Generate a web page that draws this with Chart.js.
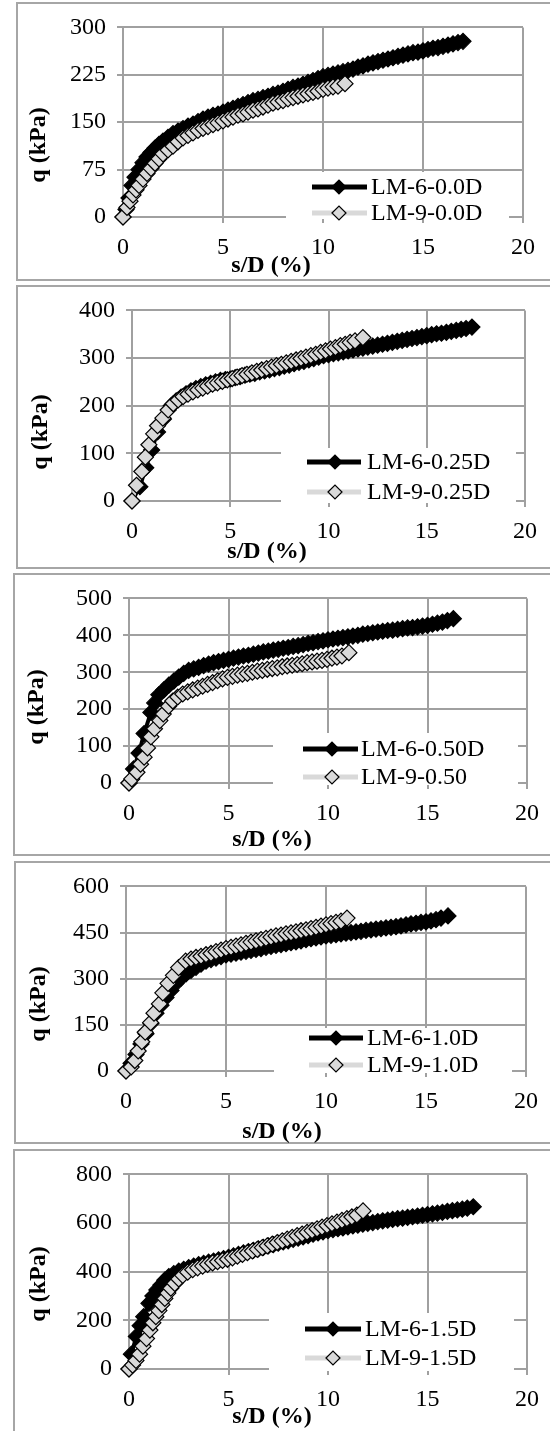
<!DOCTYPE html>
<html>
<head>
<meta charset="utf-8">
<script src="https://cdn.jsdelivr.net/npm/chart.js"></script>
<style>
  html, body { margin: 0; padding: 0; background: #fff; }
  body { position: relative; width: 550px; height: 1431px; overflow: hidden; }
  .box { position: absolute; border: 2px solid #a6a6a6; box-sizing: border-box; }
  canvas { position: absolute; left: 0; }
</style>
</head>
<body>
<script>
// ---- data: s/D (%) and q (kPa) ----
// panel 1 : 0.0D
const sd6_00 = [0,0.15,0.3,0.45,0.6,0.8,1.0,1.2,1.4,1.6,1.8,2.0,2.25,2.5,2.75,3.0,3.25,3.5,3.75,4.0,4.25,4.5,4.75,5.0,5.25,5.5,5.75,6.0,6.25,6.5,6.75,7.0,7.25,7.5,7.75,8.0,8.25,8.5,8.75,9.0,9.25,9.5,9.75,10.0,10.25,10.5,10.75,11.0,11.25,11.5,11.75,12.0,12.25,12.5,12.75,13.0,13.25,13.5,13.75,14.0,14.25,14.5,14.75,15.0,15.25,15.5,15.75,16.0,16.25,16.5,16.75,17.0];
const q6_00  = [0,12,30,50,63,75,86,95,102,109,115,120,126,132,136,140,144,147,151,155,158,161,163,166,169,172,175,178,181,184,186,189,191,194,196,199,202,205,207,210,213,216,219,222,224,226,228,230,232,234,237,239,242,244,246,248,250,252,254,256,258,260,261,263,265,267,268,270,272,274,276,278];
const sd9_00 = [0,0.2,0.35,0.5,0.65,0.8,1.0,1.2,1.4,1.6,1.8,2.0,2.25,2.5,2.75,3.0,3.25,3.5,3.75,4.0,4.25,4.5,4.75,5.0,5.25,5.5,5.75,6.0,6.25,6.5,6.75,7.0,7.25,7.5,7.75,8.0,8.25,8.5,8.75,9.0,9.25,9.5,9.75,10.0,10.25,10.5,10.75,11.1];
const q9_00  = [0,15,25,35,43,50,60,69,77,85,92,100,106,112,119,125,129,133,137,140,143,146,149,152,155,158,161,163,166,169,171,174,177,180,182,184,187,189,191,193,195,197,199,202,204,206,207,211];

// panel 2 : 0.25D
const sd6_025 = [0,0.4,0.7,1.0,1.3,1.6,2.0,2.25,2.5,2.75,3.0,3.25,3.5,3.75,4.0,4.25,4.5,4.75,5.0,5.25,5.5,5.75,6.0,6.25,6.5,6.75,7.0,7.25,7.5,7.75,8.0,8.25,8.5,8.75,9.0,9.25,9.5,9.75,10.0,10.25,10.5,10.75,11.0,11.25,11.5,11.75,12.0,12.25,12.5,12.75,13.0,13.25,13.5,13.75,14.0,14.25,14.5,14.75,15.0,15.25,15.5,15.75,16.0,16.25,16.5,16.75,17.0,17.3];
const q6_025  = [0,30,70,107,145,172,200,210,218,225,231,236,240,244,247,250,253,255,256,259,261,264,266,268,271,273,275,278,280,283,285,288,291,293,296,299,302,305,307,309,311,313,315,317,319,321,323,325,327,329,331,333,335,337,339,341,343,345,347,349,351,352,354,356,358,360,362,365];
const sd9_025 = [0,0.23,0.5,0.68,0.86,1.1,1.3,1.57,1.84,2.1,2.35,2.6,2.85,3.1,3.35,3.6,3.85,4.1,4.35,4.6,4.85,5.1,5.35,5.6,5.85,6.1,6.35,6.6,6.85,7.1,7.35,7.6,7.85,8.1,8.35,8.6,8.85,9.1,9.35,9.6,9.85,10.1,10.35,10.6,10.85,11.1,11.35,11.75];
const q9_025  = [0,33,62,92,118,141,158,174,191,204,212,219,224,229,233,237,241,245,248,251,254,257,260,263,266,269,272,275,278,281,284,287,290,293,296,299,302,305,308,312,315,319,322,326,329,333,336,343];

// panel 3 : 0.50D
const sd6_050 = [0,0.23,0.5,0.76,1.1,1.29,1.5,1.75,2.0,2.25,2.5,2.75,3.0,3.25,3.5,3.75,4.0,4.25,4.5,4.75,5.0,5.25,5.5,5.75,6.0,6.25,6.5,6.75,7.0,7.25,7.5,7.75,8.0,8.25,8.5,8.75,9.0,9.25,9.5,9.75,10.0,10.25,10.5,10.75,11.0,11.25,11.5,11.75,12.0,12.25,12.5,12.75,13.0,13.25,13.5,13.75,14.0,14.25,14.5,14.75,15.0,15.25,15.5,15.75,16.0,16.3];
const q6_050  = [0,38,81,134,191,217,239,252,265,276,287,297,305,309,313,318,322,326,329,332,335,338,341,344,346,349,352,355,357,360,362,365,367,370,372,375,378,380,383,385,388,390,392,394,396,398,400,403,405,407,409,411,413,414,416,418,420,421,423,425,427,430,433,436,440,445];
const sd9_050 = [0,0.14,0.4,0.58,0.76,0.93,1.1,1.28,1.55,1.72,1.99,2.2,2.45,2.7,2.95,3.2,3.45,3.7,3.95,4.2,4.45,4.7,4.95,5.2,5.45,5.7,5.95,6.2,6.45,6.7,6.95,7.2,7.45,7.7,7.95,8.2,8.45,8.7,8.95,9.2,9.45,9.7,9.95,10.2,10.45,10.7,11.05];
const q9_050  = [0,11,29,51,70,95,125,147,169,187,208,222,233,241,247,252,257,262,267,272,277,282,286,289,292,295,297,300,303,305,308,310,312,315,317,319,321,323,326,328,330,332,335,338,341,344,353];

// panel 4 : 1.0D
const sd6_10 = [0,0.25,0.5,0.75,1.0,1.25,1.5,1.75,2.0,2.25,2.5,2.75,3.0,3.25,3.5,3.75,4.0,4.25,4.5,4.75,5.0,5.25,5.5,5.75,6.0,6.25,6.5,6.75,7.0,7.25,7.5,7.75,8.0,8.25,8.5,8.75,9.0,9.25,9.5,9.75,10.0,10.25,10.5,10.75,11.0,11.25,11.5,11.75,12.0,12.25,12.5,12.75,13.0,13.25,13.5,13.75,14.0,14.25,14.5,14.75,15.0,15.25,15.5,15.75,16.1];
const q6_10  = [0,25,54,88,121,155,188,214,239,262,285,302,316,327,337,347,357,362,367,372,377,380,383,386,389,392,395,398,402,405,408,411,414,417,420,423,427,430,433,436,439,441,443,446,448,450,452,454,457,459,461,463,465,467,469,472,475,478,480,483,485,488,492,497,504];
const sd9_10 = [0,0.26,0.44,0.61,0.79,0.96,1.23,1.4,1.67,1.84,2.1,2.37,2.63,2.98,3.25,3.5,3.75,4.0,4.25,4.5,4.75,5.0,5.25,5.5,5.75,6.0,6.25,6.5,6.75,7.0,7.25,7.5,7.75,8.0,8.25,8.5,8.75,9.0,9.25,9.5,9.75,10.0,10.25,10.5,10.75,11.05];
const q9_10  = [0,13,34,65,95,126,157,188,218,254,285,311,336,357,364,369,373,378,382,388,393,398,402,406,410,415,419,423,427,431,435,439,442,446,449,452,456,459,463,467,471,475,479,483,487,497];

// panel 5 : 1.5D
const sd6_15 = [0,0.12,0.37,0.56,0.74,1.0,1.2,1.4,1.6,1.8,2.0,2.25,2.5,2.75,3.0,3.25,3.5,3.75,4.0,4.25,4.5,4.75,5.0,5.25,5.5,5.75,6.0,6.25,6.5,6.75,7.0,7.25,7.5,7.75,8.0,8.25,8.5,8.75,9.0,9.25,9.5,9.75,10.0,10.25,10.5,10.75,11.0,11.25,11.5,11.75,12.0,12.25,12.5,12.75,13.0,13.25,13.5,13.75,14.0,14.25,14.5,14.75,15.0,15.25,15.5,15.75,16.0,16.25,16.5,16.75,17.0,17.3];
const q6_15  = [0,61,134,178,215,270,300,325,345,365,380,392,402,410,417,423,429,434,439,444,449,454,459,465,471,477,483,488,494,500,506,511,517,522,527,533,538,543,548,554,559,564,569,573,577,580,584,588,591,595,599,602,606,609,612,615,618,620,623,626,629,632,635,638,641,644,648,651,654,657,661,667];
const sd9_15 = [0,0.18,0.35,0.53,0.7,0.88,1.05,1.2,1.35,1.5,1.65,1.8,1.95,2.1,2.3,2.5,2.7,2.95,3.2,3.45,3.7,3.95,4.2,4.45,4.7,4.95,5.2,5.45,5.7,5.95,6.2,6.45,6.7,6.95,7.2,7.45,7.7,7.95,8.2,8.45,8.7,8.95,9.2,9.45,9.7,9.95,10.2,10.45,10.7,10.95,11.2,11.45,11.76];
const q9_15  = [0,16,35,61,94,125,160,190,215,240,265,290,312,332,352,370,385,398,408,416,423,430,436,441,446,451,457,464,471,478,485,492,499,506,513,520,527,534,541,548,555,562,569,576,583,590,597,604,611,618,625,633,650];

// axis ranges
const xMax = 20, xStep = 5;
const yMaxes  = [300, 400, 500, 600, 800];
const ySteps  = [75, 100, 100, 150, 200];
const labels6 = ['LM-6-0.0D', 'LM-6-0.25D', 'LM-6-0.50D', 'LM-6-1.0D', 'LM-6-1.5D'];
const labels9 = ['LM-9-0.0D', 'LM-9-0.25D', 'LM-9-0.50', 'LM-9-1.0D', 'LM-9-1.5D'];
const series6 = [[sd6_00, q6_00], [sd6_025, q6_025], [sd6_050, q6_050], [sd6_10, q6_10], [sd6_15, q6_15]];
const series9 = [[sd9_00, q9_00], [sd9_025, q9_025], [sd9_050, q9_050], [sd9_10, q9_10], [sd9_15, q9_15]];

// ---- layout (page pixels) ----
const FONT = "'Liberation Serif', 'Times New Roman', serif";
const GRID = '#a0a0a0';
const GREY = '#d9d9d9';

const panels = [
  { top: 2,    bottom: 281,  boxLeft: 16, plot: { l: 123, r: 523, t: 16,   b: 217 },
    leg: { x1: 286, x2: 509, y1: 172, y2: 219, rows: [187, 213], line: [312, 367], mark: 339, text: 371 },
    xt: [271, 266], yt: [39, 145] },
  { top: 285,  bottom: 569,  boxLeft: 16, plot: { l: 132, r: 525, t: 300,  b: 501 },
    leg: { x1: 281, x2: 516, y1: 448, y2: 503, rows: [462, 492], line: [307, 361], mark: 335, text: 367 },
    xt: [267, 552], yt: [41, 432] },
  { top: 573,  bottom: 856,  boxLeft: 13, plot: { l: 129, r: 527, t: 592,  b: 783 },
    leg: { x1: 273, x2: 518, y1: 733, y2: 785, rows: [749, 777], line: [303, 358], mark: 332, text: 361 },
    xt: [272, 840], yt: [37, 707] },
  { top: 861,  bottom: 1144, boxLeft: 14, plot: { l: 126, r: 526, t: 876,  b: 1071 },
    leg: { x1: 274, x2: 512, y1: 1028, y2: 1073, rows: [1038, 1065], line: [309, 363], mark: 336, text: 367 },
    xt: [282, 1132], yt: [39, 1004] },
  { top: 1149, bottom: 1445, boxLeft: 13, plot: { l: 129, r: 527, t: 1164, b: 1369 },
    leg: { x1: 269, x2: 514, y1: 1313, y2: 1371, rows: [1329, 1358], line: [305, 361], mark: 333, text: 365 },
    xt: [272, 1417], yt: [39, 1284] }
];

function toPoints(xs, ys) {
  const n = Math.min(xs.length, ys.length);
  const out = [];
  for (let i = 0; i < n; i++) out.push({ x: xs[i], y: ys[i] });
  return out;
}

function diamond(ctx, x, y, r, fill) {
  ctx.beginPath();
  ctx.moveTo(x - r, y);
  ctx.lineTo(x, y - r);
  ctx.lineTo(x + r, y);
  ctx.lineTo(x, y + r);
  ctx.closePath();
  ctx.fillStyle = fill;
  ctx.fill();
  ctx.lineWidth = 1.2;
  ctx.strokeStyle = '#000';
  ctx.stroke();
}

function makePanel(idx) {
  const P = panels[idx];
  const H = P.bottom - P.top;
  const off = P.top;

  const box = document.createElement('div');
  box.className = 'box';
  box.style.left = P.boxLeft + 'px';
  box.style.top = P.top + 'px';
  box.style.width = (570 - P.boxLeft) + 'px';
  box.style.height = H + 'px';
  document.body.appendChild(box);

  const cv = document.createElement('canvas');
  cv.width = 550; cv.height = H;
  cv.style.width = '550px'; cv.style.height = H + 'px';
  cv.style.top = P.top + 'px';
  document.body.appendChild(cv);

  // legend + axis titles
  const extras = {
    id: 'extras',
    afterDatasetsDraw(chart) {
      const ctx = chart.ctx, L = P.leg;
      ctx.save();
      ctx.fillStyle = '#fff';
      ctx.fillRect(L.x1, L.y1 - off, L.x2 - L.x1, L.y2 - L.y1);
      chart.data.datasets.forEach((ds, i) => {
        const y = L.rows[i] - off;
        ctx.beginPath();
        ctx.moveTo(L.line[0], y);
        ctx.lineTo(L.line[1], y);
        ctx.lineWidth = 5;
        ctx.strokeStyle = ds.borderColor;
        ctx.stroke();
        diamond(ctx, L.mark, y, 7, ds.pointBackgroundColor);
        ctx.fillStyle = '#000';
        ctx.font = '24px ' + FONT;
        ctx.textAlign = 'left';
        ctx.textBaseline = 'middle';
        ctx.fillText(ds.label, L.text, y + 1);
      });
      ctx.restore();
    },
    afterDraw(chart) {
      const ctx = chart.ctx;
      ctx.save();
      ctx.fillStyle = '#000';
      ctx.font = 'bold 24px ' + FONT;
      ctx.textAlign = 'center';
      ctx.textBaseline = 'middle';
      ctx.fillText('s/D (%)', P.xt[0], P.xt[1] - off);
      ctx.translate(P.yt[0], P.yt[1] - off);
      ctx.rotate(-Math.PI / 2);
      ctx.fillText('q (kPa)', 0, 0);
      ctx.restore();
    }
  };

  const tickFont = { family: FONT, size: 24 };

  new Chart(cv.getContext('2d'), {
    type: 'scatter',
    data: {
      datasets: [{
        label: labels6[idx],
        data: toPoints(series6[idx][0], series6[idx][1]),
        showLine: true,
        borderColor: '#000',
        borderWidth: 4,
        backgroundColor: '#000',
        pointStyle: 'rectRot',
        pointRadius: 8,
        pointBackgroundColor: '#000',
        pointBorderColor: '#000',
        pointBorderWidth: 1.2,
        clip: false,
        order: 2
      }, {
        label: labels9[idx],
        data: toPoints(series9[idx][0], series9[idx][1]),
        showLine: true,
        borderColor: GREY,
        borderWidth: 4,
        backgroundColor: GREY,
        pointStyle: 'rectRot',
        pointRadius: 8,
        pointBackgroundColor: GREY,
        pointBorderColor: '#000',
        pointBorderWidth: 1.2,
        clip: false,
        order: 1
      }]
    },
    options: {
      responsive: false,
      devicePixelRatio: 1,
      animation: false,
      events: [],
      layout: { padding: { left: 0, right: 550 - P.plot.r, top: P.plot.t - off, bottom: 0 } },
      plugins: { legend: { display: false }, tooltip: { enabled: false } },
      scales: {
        x: {
          type: 'linear', min: 0, max: xMax,
          ticks: { stepSize: xStep, font: tickFont, color: '#000', padding: 10, maxRotation: 0 },
          grid: { color: GRID, lineWidth: 2, tickLength: 6 },
          border: { color: GRID, width: 2 },
          afterFit: s => { s.height = H - (P.plot.b - off); }
        },
        y: {
          type: 'linear', min: 0, max: yMaxes[idx],
          ticks: { stepSize: ySteps[idx], font: tickFont, color: '#000', padding: 11 },
          grid: { color: GRID, lineWidth: 2, tickLength: 6 },
          border: { color: GRID, width: 2 },
          afterFit: s => { s.width = P.plot.l; }
        }
      }
    },
    plugins: [extras]
  });
}

for (let i = 0; i < panels.length; i++) makePanel(i);
</script>
</body>
</html>
